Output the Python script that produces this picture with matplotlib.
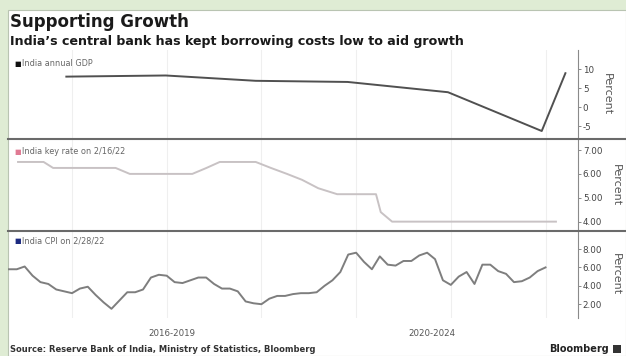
import matplotlib
matplotlib.use("Agg")
import matplotlib.pyplot as plt
from matplotlib.lines import Line2D
from matplotlib.patches import Rectangle
from matplotlib.transforms import blended_transform_factory

# ---- data -------------------------------------------------------------
# India annual GDP growth, % (x in decimal years)
gdp_dates = [2016.94, 2017.99, 2018.94, 2019.91, 2020.97, 2021.96, 2022.21]
gdp_values = [8.0, 8.3, 6.9, 6.6, 3.9, -6.3, 8.9]

# RBI policy (repo) rate, % -- change points
rate_dates = [2016.43, 2016.70, 2016.80, 2017.46, 2017.61, 2018.27, 2018.42,
              2018.56, 2018.94, 2019.10, 2019.27, 2019.43, 2019.60, 2019.80,
              2020.21, 2020.26, 2020.38, 2022.11]
rate_values = [6.50, 6.50, 6.25, 6.25, 6.00, 6.00, 6.25,
               6.50, 6.50, 6.25, 6.00, 5.75, 5.40, 5.15,
               5.15, 4.40, 4.00, 4.00]

# India CPI inflation, % y/y, monthly from May 2016 to Jan 2022
cpi_start_year = 2016
cpi_start_month = 5
cpi_values = [5.8, 5.8, 6.1, 5.1, 4.4, 4.2, 3.6, 3.4,
              3.2, 3.7, 3.9, 3.0, 2.2, 1.5, 2.4, 3.3, 3.3, 3.6, 4.9, 5.2,
              5.1, 4.4, 4.3, 4.6, 4.9, 4.9, 4.2, 3.7, 3.7, 3.4, 2.3, 2.1,
              2.0, 2.6, 2.9, 2.9, 3.1, 3.2, 3.2, 3.3, 4.0, 4.6, 5.5, 7.4,
              7.6, 6.6, 5.8, 7.2, 6.3, 6.2, 6.7, 6.7, 7.3, 7.6, 6.9, 4.6,
              4.1, 5.0, 5.5, 4.2, 6.3, 6.3, 5.6, 5.3, 4.4, 4.5, 4.9, 5.6,
              6.0]
cpi_dates = [cpi_start_year + (cpi_start_month - 1 + i) / 12.0
             for i in range(len(cpi_values))]

gdp_ticks = [10, 5, 0, -5]
gdp_ticklabels = ["10", "5", "0", "-5"]
rate_ticks = [7, 6, 5, 4]
rate_ticklabels = ["7.00", "6.00", "5.00", "4.00"]
cpi_ticks = [8, 6, 4, 2]
cpi_ticklabels = ["8.00", "6.00", "4.00", "2.00"]

x_label_pos = [2018.05, 2020.80]
x_labels = ["2016-2019", "2020-2024"]
grid_years = [2017, 2018, 2019, 2020, 2021, 2022]

title = "Supporting Growth"
subtitle = "India\u2019s central bank has kept borrowing costs low to aid growth"
source = "Source: Reserve Bank of India, Ministry of Statistics, Bloomberg"

# ---- figure -----------------------------------------------------------
W, H = 626, 356
fig = plt.figure(figsize=(W / 100, H / 100), dpi=100)
fig.patch.set_facecolor("#dfecd4")

def fx(px):
    return px / W

def fy(py):
    return 1 - py / H

# white card behind everything
card = Rectangle((fx(8), 0), 1 - fx(8), fy(10), transform=fig.transFigure,
                 facecolor="white", edgecolor="#b9c4b2", lw=0.8, zorder=-10)
fig.add_artist(card)

xmin, xmax = 2016.324, 2022.343
left, right = 8, 578

def make_ax(top, bottom):
    ax = fig.add_axes([fx(left), fy(bottom), fx(right) - fx(left), (bottom - top) / H])
    ax.set_facecolor("none")
    for s in ("top", "left", "bottom"):
        ax.spines[s].set_visible(False)
    ax.spines["right"].set_color("#8a8a8a")
    ax.spines["right"].set_linewidth(0.8)
    ax.yaxis.tick_right()
    ax.tick_params(axis="y", direction="out", length=2.5, width=0.7, color="#8a8a8a",
                   labelsize=6.3, labelcolor="#444444", pad=1)
    ax.tick_params(axis="x", length=0, labelbottom=False)
    ax.set_xlim(xmin, xmax)
    ax.set_xticks(grid_years)
    ax.grid(axis="x", color="#efefef", lw=0.8)
    ax.yaxis.set_label_position("right")
    ax.set_ylabel("Percent", rotation=270, fontsize=8, color="#555555", labelpad=13)
    return ax

ax1 = make_ax(50, 139)
ax2 = make_ax(140, 230)
ax3 = make_ax(231, 318)

ax1.plot(gdp_dates, gdp_values, color="#505050", lw=1.4, solid_joinstyle="round")
ax1.set_ylim(-8.4, 15.0)
ax1.set_yticks(gdp_ticks, gdp_ticklabels)

ax2.plot(rate_dates, rate_values, color="#c8c2c4", lw=1.4)
ax2.set_ylim(3.65, 7.42)
ax2.set_yticks(rate_ticks, rate_ticklabels)

ax3.plot(cpi_dates, cpi_values, color="#7e7e7e", lw=1.4)
ax3.set_ylim(0.5, 9.96)
ax3.set_yticks(cpi_ticks, cpi_ticklabels)

# legend keys
def key(y_px, color, label):
    fig.text(fx(14), fy(y_px), "\u25a0", color=color, fontsize=5, va="center", ha="left")
    fig.text(fx(22), fy(y_px), label, color="#666666", fontsize=5.9, va="center", ha="left")

key(64, "#111111", "India annual GDP")
key(152, "#e07a93", "India key rate on 2/16/22")
key(241, "#1c2a80", "India CPI on 2/28/22")

# panel separators
for yp in (139.5, 230.5):
    fig.add_artist(Line2D([fx(8), 1], [fy(yp), fy(yp)], color="#6a6a6a", lw=1.5))

# x labels
xl_trans = blended_transform_factory(ax3.transData, fig.transFigure)
for xv, lab in zip(x_label_pos, x_labels):
    ax3.text(xv, fy(334), lab, transform=xl_trans, ha="center", va="center",
             fontsize=6.2, color="#555555", clip_on=False)

# titles and footer
fig.text(fx(10), fy(22), title, fontsize=12, fontweight="bold", color="#1a1a1a",
         va="center", ha="left")
fig.text(fx(10), fy(41), subtitle, fontsize=9.1, fontweight="bold", color="#1a1a1a",
         va="center", ha="left")
fig.text(fx(10), fy(349), source, fontsize=6, fontweight="bold", color="#333333",
         va="center", ha="left")
fig.text(fx(609), fy(349), "Bloomberg", fontsize=7, fontweight="bold", color="#222222",
         va="center", ha="right")
fig.add_artist(Rectangle((fx(613), fy(353)), fx(8), 8 / H, transform=fig.transFigure,
                         facecolor="#333333", edgecolor="none"))

fig.savefig("out.png", dpi=100, facecolor=fig.get_facecolor())
